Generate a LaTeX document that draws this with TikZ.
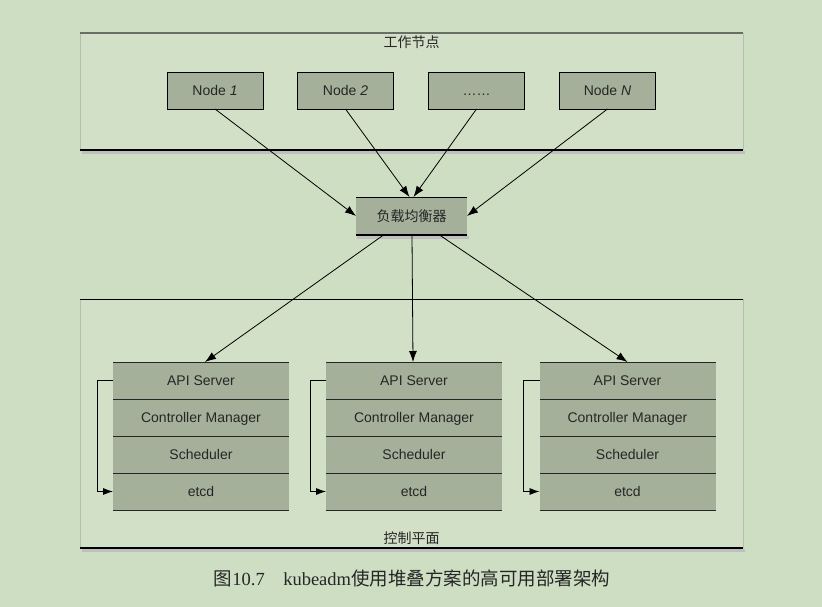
\documentclass[tikz,border=0pt]{standalone}
\usepackage{fontspec}
\setmainfont{Liberation Sans}
\newfontfamily\cjk{Noto Sans CJK SC}
\newfontfamily\capserif{Liberation Serif}
\usetikzlibrary{arrows.meta}
\definecolor{bg}{HTML}{CEDEC3}
\definecolor{panelfill}{HTML}{D1E0C6}
\definecolor{boxfill}{HTML}{A4B09A}
\definecolor{edgegray}{HTML}{6A6F66}
\definecolor{sidegray}{HTML}{B4BEAC}
\begin{document}
\begin{tikzpicture}[x=1pt,y=-1pt,
  every node/.style={inner sep=0pt, outer sep=0pt},
  lbl/.style={font=\fontsize{14}{16}\selectfont, text=black!85, text height=11.5pt, text depth=1.5pt},
  cjklbl/.style={font=\cjk\fontsize{14}{16}\selectfont, text=black!85, text height=11.5pt, text depth=1.5pt},
  workbox/.style={lbl, draw=black, line width=0.9pt, fill=boxfill, minimum width=96pt, minimum height=37pt},
  lbbox/.style={cjklbl, fill=boxfill, minimum width=111pt, minimum height=38pt},
  rowbox/.style={lbl, fill=boxfill, minimum width=176pt, minimum height=37pt},
  link/.style={line width=0.8pt, -{Latex[length=11pt,width=8pt]}},
  loopline/.style={line width=0.8pt, -{Latex[length=10pt,width=7pt]}},
  rowline/.style={line width=0.9pt, black!85},
  shadowline/.style={line width=2.5pt, black!25},
]
% canvas
\fill[bg] (0,0) rectangle (822,607);
\useasboundingbox (0,0) rectangle (822,607);

% worker node panel
\fill[panelfill] (80,33) rectangle (743,150);
\draw[sidegray, line width=0.8pt] (80,33) -- (80,150) (743,33) -- (743,150);
\draw[edgegray, line width=1.6pt] (80,33) -- (743,33);
\draw[shadowline] (82,152.5) -- (745,152.5);
\draw[black, line width=1.4pt] (80,150) -- (743,150);
\node[cjklbl] (worktitle) at (411.5,43) {工作节点};

\node[workbox] (n1) at (215,90.5) {Node \textit{1}};
\node[workbox] (n2) at (345.5,90.5) {Node \textit{2}};
\node[workbox] (n3) at (476.5,90.5) {……};
\node[workbox] (nN) at (607.5,90.5) {Node \textit{N}};

% load balancer
\draw[shadowline] (357,237.5) -- (469,237.5);
\node[lbbox] (lb) at (411.5,216) {负载均衡器};
\draw[black, line width=1pt] (lb.north west) -- (lb.north east);
\draw[black, line width=1.4pt] (lb.south west) -- (lb.south east);

% control plane panel
\fill[panelfill] (80,299) rectangle (743,548);
\draw[sidegray, line width=0.8pt] (80,299) -- (80,548) (743,299) -- (743,548);
\draw[black, line width=1pt] (80,299) -- (743,299);
\draw[shadowline] (82,550.5) -- (745,550.5);
\draw[black, line width=1.4pt] (80,548) -- (743,548);
\node[cjklbl] (cptitle) at (411.5,538) {控制平面};

% master stacks
\foreach \s/\cx in {1/201, 2/414, 3/627.5}{
  \node[rowbox] (s\s api)  at (\cx,380.5) {API Server};
  \node[rowbox] (s\s cm)   at (\cx,417.5) {Controller Manager};
  \node[rowbox] (s\s sch)  at (\cx,454.5) {Scheduler};
  \node[rowbox] (s\s etcd) at (\cx,491.5) {etcd};
  \draw[rowline] (s\s api.north west) -- (s\s api.north east);
  \draw[rowline] (s\s cm.north west) -- (s\s cm.north east);
  \draw[rowline] (s\s sch.north west) -- (s\s sch.north east);
  \draw[rowline] (s\s etcd.north west) -- (s\s etcd.north east);
  \draw[rowline] (s\s etcd.south west) -- (s\s etcd.south east);
  \draw[loopline] (s\s api.west) -- ++(-16,0) |- (s\s etcd.west);
}

% connectors: workers to load balancer
\draw[link] (n1.south) -- (lb.west);
\draw[link] (n2.south) -- ([xshift=-2pt]lb.north);
\draw[link] (n3.south) -- ([xshift=2pt]lb.north);
\draw[link] (nN.south) -- (lb.east);

% connectors: load balancer to API servers
\draw[link] ([xshift=-28pt]lb.south) -- ([xshift=4pt]s1api.north);
\draw[link] ([xshift=0.5pt]lb.south) -- ([xshift=-1pt]s2api.north);
\draw[link] ([xshift=28pt]lb.south) -- (s3api.north);

% caption
\node[font=\capserif\fontsize{18.5}{21}\selectfont, text=black!85] (caption) at (412,578)
  {{\cjk 图}10.7\hspace{1em}kubeadm{\cjk 使用堆叠方案的高可用部署架构}};
\end{tikzpicture}
\end{document}
